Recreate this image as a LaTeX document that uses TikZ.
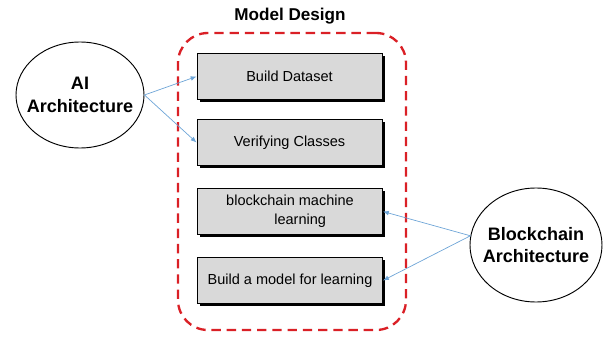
\documentclass[tikz,border=0pt]{standalone}
\usepackage{fontspec}
\setmainfont{Liberation Sans}
\usetikzlibrary{arrows.meta,shapes.geometric,shadows}
\definecolor{framered}{RGB}{218,32,38}
\definecolor{flowblue}{RGB}{110,165,215}
\definecolor{boxgray}{RGB}{217,217,217}
% zero-width line so the ellipse keeps its given size
\newcommand{\archline}[1]{\makebox[0pt][c]{#1}}

\begin{document}
\begin{tikzpicture}[x=0.03cm,y=-0.03cm]
                        \tikzstyle{task}=[draw, fill=boxgray, line width=0.8pt, minimum width=5.55cm, minimum height=1.38cm,
                            align=center, font=\fontsize{12.4}{16}\selectfont,
                            drop shadow={shadow xshift=2.5pt, shadow yshift=-2.5pt, fill=black, opacity=1}]
                        \tikzstyle{arch}=[draw, ellipse, line width=0.8pt, inner sep=0pt, align=center,
                            font=\fontsize{15.4}{19}\selectfont\bfseries]
                        \tikzstyle{flow}=[draw=flowblue, line width=0.6pt, -{Latex[length=5pt,width=4pt]}]
                        \useasboundingbox (0,0) rectangle (606,339);
                        % dashed frame round the model steps
                        \node[draw=framered, dashed, dash pattern=on 8pt off 5pt, line width=2pt, rounded corners=0.9cm,
                            minimum width=6.84cm, minimum height=8.91cm] (frame) at (292,181.5) {};
                        \node[font=\fontsize{14.6}{17}\selectfont\bfseries] (title) at (290,16) {Model Design};
                        % steps
                        \node[task] (dataset) at (289.5,76.5) {Build Dataset};
                        \node[task] (classes) at (289.5,142.5) {Verifying Classes};
                        \node[task] (bcml) at (290,211.5) {blockchain machine\\\hspace*{1.4em}learning};
                        \node[task] (model) at (290,280.5) {Build a model for learning};
                        % architectures
                        \node[arch, minimum width=3.84cm, minimum height=3.18cm] (ai) at (80,95)
                            {\archline{AI}\\\archline{Architecture}};
                        \node[arch, minimum width=3.96cm, minimum height=3.42cm] (blockchain) at (536,245)
                            {\archline{Blockchain}\\\archline{Architecture}};
                        \draw[flow] (ai.east) -- (dataset.west);
                        \draw[flow] (ai.east) -- (classes.west);
                        \draw[flow] (blockchain.172) -- (bcml.east);
                        \draw[flow] (blockchain.172) -- (model.east);
                    \end{tikzpicture}
\end{document}
